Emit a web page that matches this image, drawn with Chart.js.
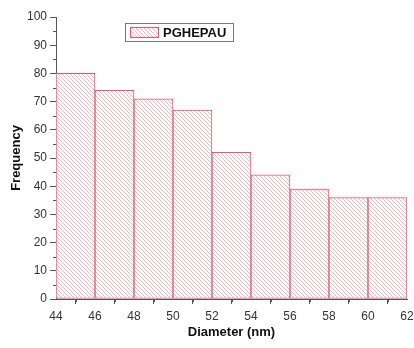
<!DOCTYPE html>
<html>
<head>
<meta charset="utf-8">
<script src="https://cdn.jsdelivr.net/npm/chart.js@4/dist/chart.umd.min.js"></script>
<style>
  html, body { margin: 0; padding: 0; background: #fff; }
  #wrap { width: 414px; height: 348px; }
</style>
</head>
<body>
<div id="wrap"><canvas id="chart" width="414" height="348"></canvas></div>
<script>
'use strict'

// bin centres of the histogram (nm) and counts
const binCenters = [ 45, 47, 49, 51, 53, 55, 57, 59, 61 ];
const frequency  = [ 80, 74, 71, 67, 52, 44, 39, 36, 36 ];
const seriesName = 'PGHEPAU';

const FONT = '"Liberation Sans", Arial, sans-serif';

// diagonal hatch like the origin plot
const makeHatch = () => {
  const s = 8;
  const c = document.createElement( 'canvas' );
  c.width = s; c.height = s;
  const g = c.getContext( '2d' );
  g.fillStyle = '#fef8f8';
  g.fillRect( 0, 0, s, s );
  const line = ( color, off ) => {
    g.strokeStyle = color;
    g.lineWidth = 0.9;
    g.beginPath();
    for ( let k = -2; k <= 2; k++ ) {
      const d = off + k * s;
      g.moveTo( d - 1, -1 );
      g.lineTo( d + s + 1, s + 1 );
    }
    g.stroke();
  };
  line( '#f0b2bb', 0 );
  line( '#c9bcbe', 4 );
  return g.createPattern( c, 'repeat' );
};

// small minor tick marks between the labelled ones
const minorTicks = {
  id: 'minorTicks',
  afterDraw( chart ) {
    const ctx = chart.ctx;
    const x = chart.scales.x, y = chart.scales.y;
    ctx.save();
    ctx.strokeStyle = '#555';
    ctx.lineWidth = 1;
    ctx.beginPath();
    for ( let v = 5; v < 100; v += 10 ) {
      const py = Math.round( y.getPixelForValue( v ) ) + 0.5;
      ctx.moveTo( x.left - 3, py );
      ctx.lineTo( x.left, py );
    }
    for ( let v = 45; v < 62; v += 2 ) {
      const px = Math.round( x.getPixelForValue( v ) ) + 0.5;
      ctx.moveTo( px, y.bottom );
      ctx.lineTo( px, y.bottom + 3 );
    }
    ctx.stroke();
    ctx.restore();
  }
};

// legend box inside the plot, top left
const boxLegend = {
  id: 'boxLegend',
  afterDraw( chart ) {
    const ctx = chart.ctx;
    const ds = chart.data.datasets[0];
    ctx.save();
    ctx.fillStyle = '#fff';
    ctx.fillRect( 125.5, 23.5, 108, 18 );
    ctx.strokeStyle = '#777';
    ctx.lineWidth = 1;
    ctx.strokeRect( 125.5, 23.5, 108, 18 );
    ctx.fillStyle = ds.backgroundColor;
    ctx.fillRect( 130.5, 27.5, 28, 10 );
    ctx.strokeStyle = ds.borderColor;
    ctx.strokeRect( 130.5, 27.5, 28, 10 );
    ctx.fillStyle = '#111';
    ctx.font = 'bold 13px ' + FONT;
    ctx.textBaseline = 'middle';
    ctx.fillText( ds.label, 163, 33 );
    ctx.restore();
  }
};

window.onload = () => {

  const points = binCenters.map( ( c, i ) => ( { x: c, y: frequency[i] } ) );

  new Chart(
    document.getElementById( 'chart' ),
    {
      type: 'bar',
      data: {
        datasets: [{
          label: seriesName,
          data: points,
          backgroundColor: makeHatch(),
          borderColor: '#e05a70',
          borderWidth: 1,
          borderSkipped: false,
          barPercentage: 1,
          categoryPercentage: 1
        }]
      },
      plugins: [ minorTicks, boxLegend ],
      options: {
        responsive: false,
        animation: false,
        layout: { padding: { top: 17, right: 2, left: 0, bottom: 0 } },
        plugins: {
          legend: { display: false },
          tooltip: { enabled: false }
        },
        scales: {
          x: {
            type: 'linear',
            offset: false,
            min: 44,
            max: 62,
            afterFit: s => { s.height = 49; s.paddingRight = 7; },
            border: { color: '#555', width: 1 },
            grid: { drawOnChartArea: false, tickLength: 5, tickColor: '#555' },
            ticks: {
              stepSize: 2,
              padding: 5,
              color: '#333',
              font: { family: FONT, size: 12 },
              maxRotation: 0
            },
            title: {
              display: true,
              text: 'Diameter (nm)',
              color: '#111',
              font: { family: FONT, size: 13, weight: 'bold' },
              padding: { bottom: 8 }
            }
          },
          y: {
            min: 0,
            max: 100,
            afterFit: s => { s.width = 56; },
            border: { color: '#555', width: 1 },
            grid: { drawOnChartArea: false, tickLength: 6, tickColor: '#555' },
            ticks: {
              stepSize: 10,
              padding: 3,
              color: '#333',
              font: { family: FONT, size: 12 }
            },
            title: {
              display: true,
              text: 'Frequency',
              color: '#111',
              font: { family: FONT, size: 13, weight: 'bold' },
              padding: { top: 9 }
            }
          }
        }
      }
    }
  );
}
</script>
</body>
</html>
